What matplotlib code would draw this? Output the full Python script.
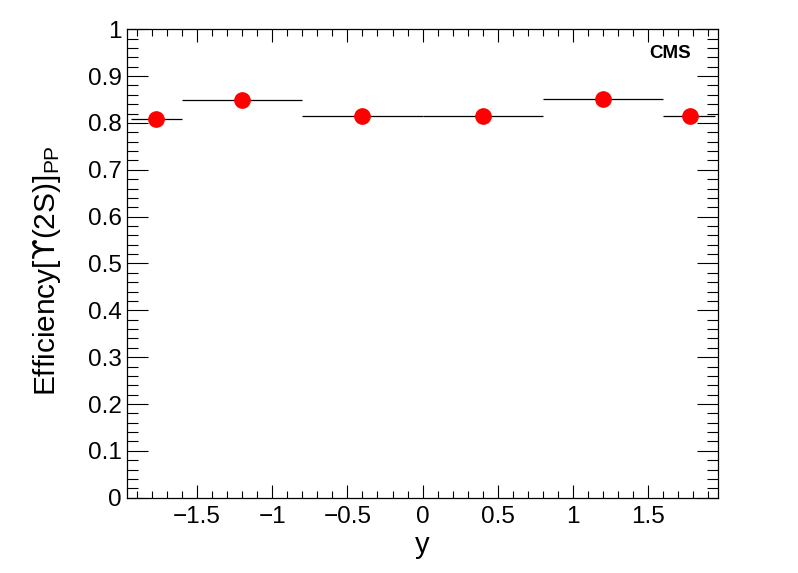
import numpy as np
import matplotlib
matplotlib.use('Agg')
import matplotlib.pyplot as plt
from matplotlib.ticker import MultipleLocator

plt.rcParams['font.family'] = ['Liberation Sans', 'DejaVu Sans']
plt.rcParams['mathtext.fontset'] = 'custom'
plt.rcParams['mathtext.rm'] = 'Liberation Sans'
plt.rcParams['mathtext.it'] = 'Liberation Sans:italic'
plt.rcParams['mathtext.sf'] = 'DejaVu Sans'

# rapidity bins and efficiency values
y_center = [-1.775, -1.2, -0.4, 0.4, 1.2, 1.78]
y_low = [-1.94, -1.6, -0.8, 0.0, 0.8, 1.6]
y_high = [-1.6, -0.8, 0.0, 0.8, 1.6, 1.94]
eff = [0.808, 0.850, 0.814, 0.814, 0.852, 0.814]

xerr = np.array([np.subtract(y_center, y_low), np.subtract(y_high, y_center)])

fig = plt.figure(figsize=(7.98, 5.73), dpi=100)
ax = fig.add_axes([0.1595, 0.1314, 0.7402, 0.8175])

ax.errorbar(y_center, eff, xerr=xerr, fmt='o', color='red', markersize=11,
            ecolor='black', elinewidth=0.9, capsize=0, zorder=3)

ax.set_xlim(-1.963, 1.963)
ax.set_ylim(0, 1)

ax.xaxis.set_major_locator(MultipleLocator(0.5))
ax.xaxis.set_minor_locator(MultipleLocator(0.1))
ax.yaxis.set_major_locator(MultipleLocator(0.1))
ax.yaxis.set_minor_locator(MultipleLocator(0.02))

ax.tick_params(axis='both', which='both', direction='in', top=True, right=True,
               width=0.8, labelsize=17.5)
ax.tick_params(axis='x', which='major', length=9.5, pad=6)
ax.tick_params(axis='x', which='minor', length=5)
ax.tick_params(axis='y', which='major', length=15, pad=4)
ax.tick_params(axis='y', which='minor', length=8)

ax.yaxis.set_major_formatter(plt.FuncFormatter(lambda v, p: '%g' % round(v, 2)))
ax.xaxis.set_major_formatter(plt.FuncFormatter(lambda v, p: ('%g' % round(v, 2)).replace('-', '\u2212')))

for s in ax.spines.values():
    s.set_linewidth(0.9)

ax.set_xlabel('y', fontsize=21, labelpad=2)
ax.set_ylabel('Efficiency[$\\mathsf{\u03d2}$(2S)]$_{\\mathrm{PP}}$', fontsize=21.5, labelpad=18)
ax.yaxis.label.set_y(0.485)

ax.text(0.954, 0.966, 'CMS', transform=ax.transAxes, fontsize=13.5,
        fontweight='bold', ha='right', va='top')

fig.savefig('out.png', dpi=100)
